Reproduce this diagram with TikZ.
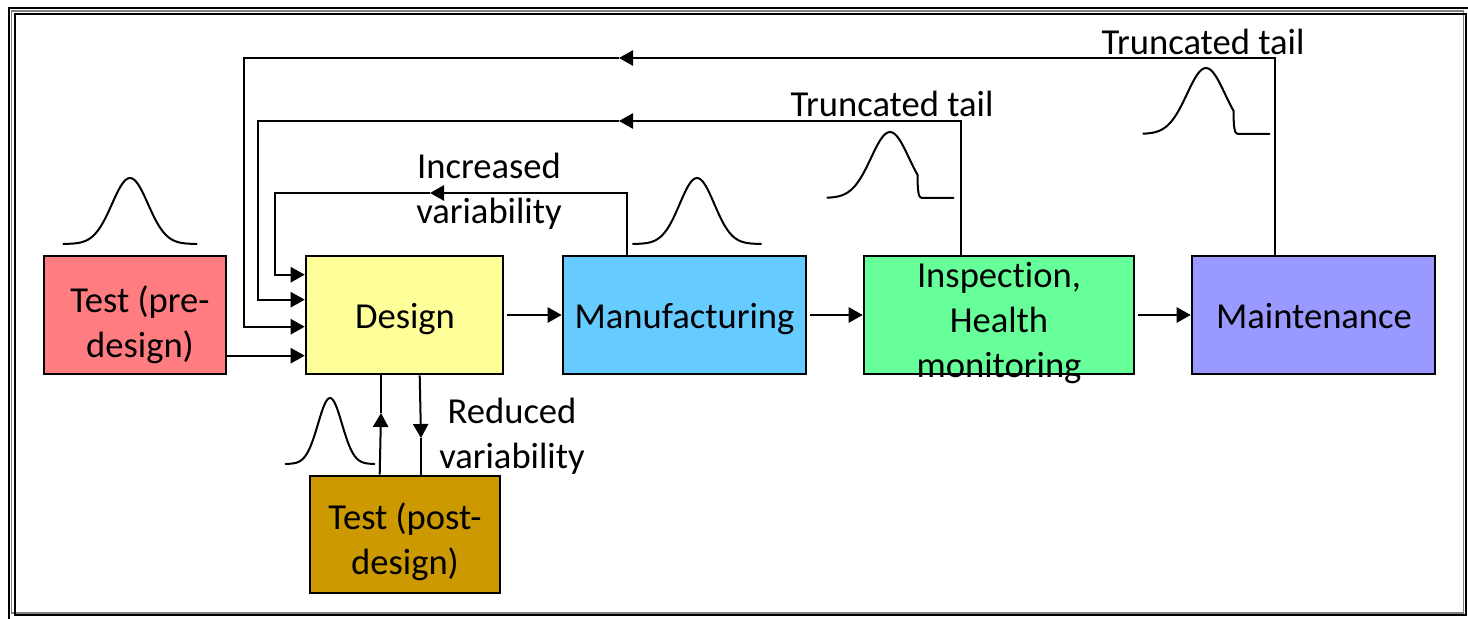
\documentclass[tikz,border=0pt]{standalone}
\usepackage{fontspec}
\setmainfont[Ligatures=NoCommon]{Carlito}
\usetikzlibrary{arrows.meta,calc}
\definecolor{cpre}{RGB}{255,124,128}
\definecolor{cdes}{RGB}{255,255,153}
\definecolor{cman}{RGB}{102,204,255}
\definecolor{cins}{RGB}{102,255,153}
\definecolor{cmai}{RGB}{153,153,255}
\definecolor{cpost}{RGB}{204,153,0}
\begin{document}
\begin{tikzpicture}[x=0.5pt,y=-0.5pt,
  box/.style={draw=black,line width=1.3pt,rectangle,inner sep=0pt,minimum height=59pt},
  lbl/.style={inner sep=0pt,align=center,font=\fontsize{18.3}{22.5}\selectfont},
  conn/.style={line width=1pt},
  arr/.style={conn,-{Triangle[length=7pt,width=7.6pt]}},
  curve/.style={line width=1pt,line join=round,line cap=round},
  bell/.pic={\draw[curve] plot[smooth,domain=-3.7:3.7,samples=61] ({#1*\x},{-66*exp(-\x*\x/2)});},
  tbell/.pic={\draw[curve] plot[smooth,domain=-3.3:1.45,samples=41] ({19*\x},{-66*exp(-\x*\x/2)})
      .. controls +(0,16) and +(-3,0) .. ++(4,23) -- ++(32,0);}
]
\useasboundingbox (0,0) rectangle (1468,619);
% frame
\draw[line width=1pt] (9,8) rectangle (1490,640);
\draw[gray,line width=0.6pt] (11.5,11) rectangle (1463.5,613);
\draw[line width=1pt] (14.5,14) rectangle (1465.5,615.5);

% boxes
\node[box,fill=cpre,minimum width=91pt] (tpre) at (135,315) {};
\node[box,fill=cdes,minimum width=98.5pt] (des) at (404.5,315) {};
\node[box,fill=cman,minimum width=121.5pt] (man) at (684.5,315) {};
\node[box,fill=cins,minimum width=135pt] (insp) at (999,315) {};
\node[box,fill=cmai,minimum width=121.5pt] (mai) at (1313.5,315) {};
\node[box,fill=cpost,minimum width=95pt,minimum height=58.5pt] (tpost) at (405,534.5) {};

% box texts
\node[lbl] (tpre-t) at (140,325) {Test (pre-\\design)};
\node[lbl,anchor=base] (des-t) at (405,329) {Design};
\node[lbl,anchor=base] (man-t) at (684.5,329) {Manufacturing};
\node[lbl] (insp-t) at (999,323.5) {Inspection,\\Health\\monitoring};
\node[lbl,anchor=base] (mai-t) at (1314,329) {Maintenance};
\node[lbl] (tpost-t) at (405,542) {Test (post-\\design)};

% other labels
\node[lbl] (incv) at (489,191) {Increased\\variability};
\node[lbl,anchor=base] (tt1) at (892,117) {Truncated tail};
\node[lbl,anchor=base] (tt2) at (1203,55) {Truncated tail};
\node[lbl] (redv) at (512,436) {Reduced\\variability};

% forward arrows
\draw[arr] ($(tpre.north east)+(0,101)$) -- ($(des.north west)+(0,101)$);
\draw[arr] ([xshift=1.5pt]des.east) -- (man.west);
\draw[arr] ([xshift=1.5pt]man.east) -- (insp.west);
\draw[arr] ([xshift=1.5pt]insp.east) -- (mai.west);

% feedback from manufacturing
\coordinate (fbA) at (430,193);
\draw[arr] ($(man.north west)+(65,0)$) |- (fbA);
\draw[arr] (fbA) -| ($(des.north west)+(-30,20)$) -- ($(des.north west)+(0,20)$);
% feedback from inspection
\coordinate (fbB) at (619,121);
\draw[arr] ($(insp.north west)+(98,0)$) |- (fbB);
\draw[arr] (fbB) -| ($(des.north west)+(-47,45)$) -- ($(des.north west)+(0,45)$);
% feedback from maintenance
\coordinate (fbC) at (619,58);
\draw[arr] ($(mai.north west)+(84,0)$) |- (fbC);
\draw[arr] (fbC) -| ($(des.north west)+(-61,72)$) -- ($(des.north west)+(0,72)$);

% design <-> test post
\coordinate (upA) at (381,413);
\draw[arr] ($(tpost.north west)+(71,0)$) -- (upA);
\draw[conn] (upA) -- (upA |- des.south);
\coordinate (dnA) at (421,438);
\draw[arr] ($(des.south west)+(115,0)$) -- (dnA);
\draw[conn] (dnA) -- (dnA |- tpost.north);

% distributions
\pic at (130,244) {bell=18};
\pic at (697,244) {bell=17.3};
\pic at (330,464) {bell=12};
\pic at (890,198) {tbell};
\pic at (1206,134) {tbell};
\end{tikzpicture}
\end{document}
